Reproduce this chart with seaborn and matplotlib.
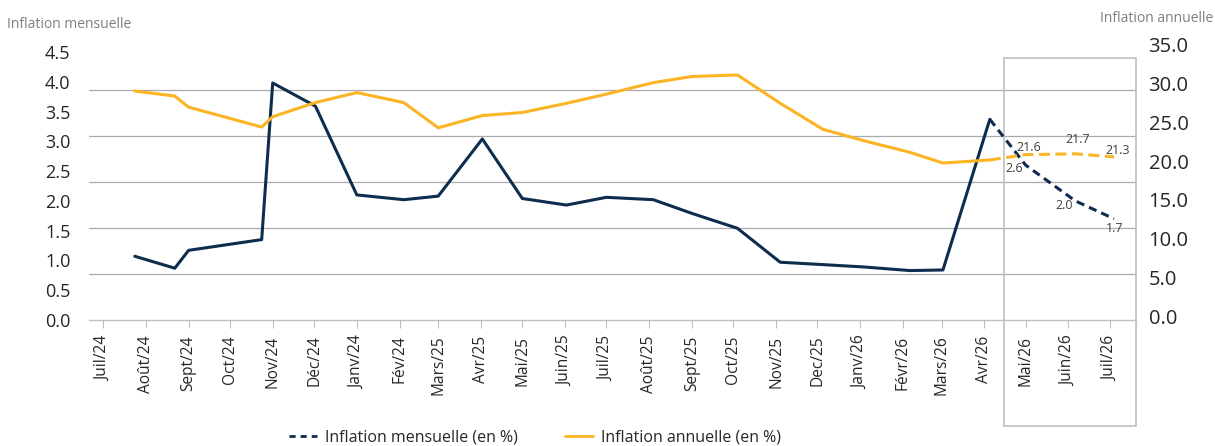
import numpy as np
import pandas as pd
import matplotlib
matplotlib.use("Agg")
import matplotlib.pyplot as plt
import matplotlib.dates as mdates
import matplotlib.ticker as mticker
import matplotlib.transforms as mtransforms
from matplotlib.patches import Rectangle
from matplotlib.lines import Line2D
import seaborn as sns

sns.set_theme(style="white")
plt.rcParams["font.family"] = ["Open Sans", "DejaVu Sans"]

NAVY = "#0e2d4e"
GOLD = "#fbb424"
GRID = "#ababab"
FRAME = "#bfbfbf"

# data
dates = [
    "2024-07-24", "2024-08-22", "2024-09-01", "2024-10-24", "2024-11-01",
    "2024-12-02", "2025-01-01", "2025-02-04", "2025-03-01", "2025-04-02",
    "2025-05-01", "2025-06-02", "2025-07-01", "2025-08-04", "2025-09-01",
    "2025-10-04", "2025-11-04", "2025-12-05", "2026-01-04", "2026-02-06",
    "2026-03-02", "2026-04-05", "2026-05-01", "2026-06-06", "2026-07-04",
]
monthly = [1.07, 0.87, 1.17, 1.35, 3.98, 3.59, 2.10, 2.02, 2.08, 3.04,
           2.04, 1.93, 2.06, 2.02, 1.79, 1.54, 0.97, 0.93, 0.89, 0.83,
           0.84, 3.37, 2.6, 2.0, 1.7]
annual = [29.9, 29.25, 27.8, 25.2, 26.55, 28.4, 29.7, 28.4, 25.1, 26.7,
          27.1, 28.3, 29.5, 31.0, 31.8, 32.0, 28.3, 24.9, 23.4, 21.9,
          20.5, 20.9, 21.6, 21.7, 21.3]
n_observed = 22  # up to Avr/26, the rest is projection

month_labels = [
    "Juil/24", "Août/24", "Sept/24", "Oct/24", "Nov/24", "Déc/24", "Janv/24",
    "Fév/24", "Mars/25", "Avr/25", "Mai/25", "Juin/25", "Juil/25", "Août/25",
    "Sept/25", "Oct/25", "Nov/25", "Dec/25", "Janv/26", "Févr/26", "Mars/26",
    "Avr/26", "Mai/26", "Juin/26", "Juil/26",
]
left_ticks = [0.0, 0.5, 1.0, 1.5, 2.0, 2.5, 3.0, 3.5, 4.0, 4.5]
right_ticks = [0.0, 5.0, 10.0, 15.0, 20.0, 25.0, 30.0, 35.0]
grid_annual = [6, 12, 18, 24, 30]

df = pd.DataFrame({"date": pd.to_datetime(dates),
                   "mensuelle": monthly, "annuelle": annual})
hist = df.iloc[:n_observed]
proj = df.iloc[n_observed - 1:]

W, H = 1215, 446
fig = plt.figure(figsize=(W / 100, H / 100), dpi=100)
ax = fig.add_axes([89.3 / W, 1 - 320 / H, (1136 - 89.3) / W, 268 / H])
ax2 = ax.twinx()

# the source chart's right-hand labels sit a little off its data scale,
# so they go on their own bare axis
ax_lab = fig.add_axes([89.3 / W, 1 - 316 / H, (1136 - 89.3) / W, 271 / H])
ax_lab.patch.set_visible(False)
ax_lab.set_xticks([])
ax_lab.yaxis.tick_right()
ax_lab.set_ylim(0, 35)
ax_lab.set_yticks(right_ticks)
ax_lab.yaxis.set_major_formatter(mticker.FormatStrFormatter("%.1f"))
ax_lab.tick_params(axis="y", length=0, pad=9, labelsize=14.5, labelcolor="#262626")
for s in ax_lab.spines.values():
    s.set_visible(False)

# gridlines follow the annual axis spacing
for v in grid_annual:
    ax.axhline(v * 4.5 / 35, color=GRID, lw=0.9, zorder=0)

sns.lineplot(data=hist, x="date", y="mensuelle", ax=ax, color=NAVY, lw=2.2)
sns.lineplot(data=proj, x="date", y="mensuelle", ax=ax, color=NAVY, lw=2.2,
             linestyle=(0, (2.7, 1.7)))
sns.lineplot(data=hist, x="date", y="annuelle", ax=ax2, color=GOLD, lw=2.2)
sns.lineplot(data=proj, x="date", y="annuelle", ax=ax2, color=GOLD, lw=2.2,
             linestyle=(0, (3.6, 1.8)))

x_start, x_end = pd.Timestamp("2024-06-21"), pd.Timestamp("2026-07-20")
ax.set_xlim(x_start, x_end)
ax.set_xticks(pd.date_range("2024-07-01", periods=len(month_labels), freq="MS"))
ax.set_xticklabels(month_labels, rotation=90)
shift = mtransforms.ScaledTranslation(2.5 / 100, 0, fig.dpi_scale_trans)
for t in ax.get_xticklabels():
    t.set_transform(t.get_transform() + shift)

ax.set_ylim(0, 4.5)
ax.set_yticks(left_ticks)
ax.yaxis.set_major_formatter(mticker.FormatStrFormatter("%.1f"))
ax2.set_ylim(0, 35)
ax2.set_yticks([])

for a in (ax, ax2):
    a.set_xlabel("")
    a.set_ylabel("")
    for s in ("top", "left", "right"):
        a.spines[s].set_visible(False)
ax2.spines["bottom"].set_visible(False)
ax.spines["bottom"].set_color(FRAME)
ax.spines["bottom"].set_linewidth(1.0)

ax.tick_params(axis="y", length=0, pad=13.5, labelsize=13, labelcolor="#262626")
ax.tick_params(axis="x", bottom=True, length=5.8, width=0.8, color=FRAME,
               pad=5.5, labelsize=11.2, labelcolor="#262626")

# projection box
trans = mtransforms.blended_transform_factory(ax.transData, ax.transAxes)
bx0 = mdates.date2num(pd.Timestamp("2026-04-15"))
bx1 = mdates.date2num(x_end)
ax.add_patch(Rectangle((bx0, -0.396), bx1 - bx0, 1.374, transform=trans,
                       fill=False, ec=FRAME, lw=1.2, clip_on=False, zorder=1))

# value labels on projections
lab = dict(fontsize=9, color="#404040", ha="center", va="center",
           textcoords="offset points")
m_off = [(-8.5, -2.2), (-8, -3), (0.7, -7.2)]
a_off = [(2.2, 5), (1.4, 10), (3, 4.3)]
for i, (mo, ao) in enumerate(zip(m_off, a_off)):
    row = df.iloc[n_observed + i]
    ax.annotate(f"{row['mensuelle']:.1f}", (row["date"], row["mensuelle"]),
                xytext=mo, **lab)
    ax2.annotate(f"{row['annuelle']:.1f}", (row["date"], row["annuelle"]),
                 xytext=ao, **lab)

fig.text(7 / W, 1 - 24 / H, "Inflation mensuelle", fontsize=10,
         color="#7f7f7f", ha="left", va="center")
fig.text(1213 / W, 1 - 18 / H, "Inflation annuelle", fontsize=10,
         color="#7f7f7f", ha="right", va="center")

handles = [
    Line2D([], [], color=NAVY, lw=2.0, linestyle=(0, (2.2, 1.8))),
    Line2D([], [], color=GOLD, lw=2.0),
]
fig.legend(handles, ["Inflation mensuelle (en %)", "Inflation annuelle (en %)"],
           loc="center", bbox_to_anchor=(535 / W, 1 - 438 / H), ncol=2,
           frameon=False, fontsize=11.5, handlelength=1.75, handletextpad=0.5,
           columnspacing=3.0, borderpad=0, labelcolor="#262626")

fig.savefig("out.png", dpi=100)
